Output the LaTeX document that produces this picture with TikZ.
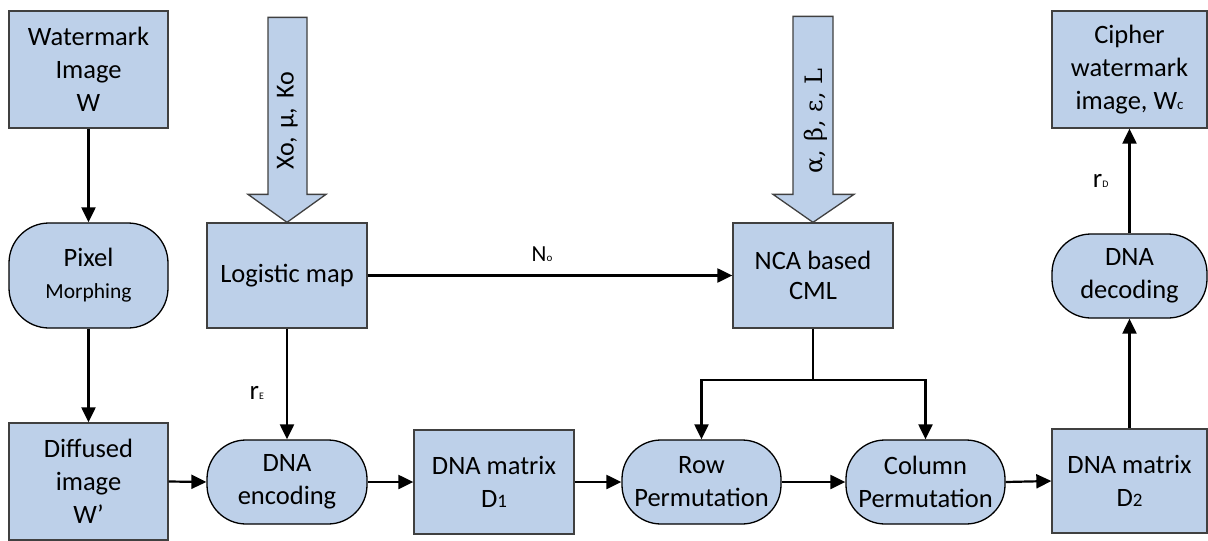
\documentclass[tikz,border=0pt]{standalone}
\usepackage{fontspec}
\setmainfont{Carlito}
\newfontfamily\grk{DejaVu Serif}
\usetikzlibrary{arrows.meta,calc}
\definecolor{boxfill}{RGB}{189,208,233}
\definecolor{boxline}{RGB}{64,64,64}
\newcommand{\smallsub}[2]{{\fontsize{#1}{#1}\selectfont #2}}
\begin{document}
\begin{tikzpicture}[x=1pt,y=-1pt,
 txt/.style={font=\fontsize{26.5}{33}\selectfont, align=center},
 sqbox/.style={txt, draw=boxline, line width=1.3pt, fill=boxfill, inner sep=0pt},
 rbox/.style={txt, draw=black, line width=1.3pt, fill=boxfill, rounded corners=39pt, inner sep=0pt},
 arr/.style={line width=2.2pt, -{Triangle[length=15pt,width=14pt]}},
 ln/.style={line width=2.2pt},
 barrow/.style={draw=boxline, line width=1.3pt, fill=boxfill, line join=miter},
 lab/.style={font=\fontsize{27}{30}\selectfont, inner sep=0pt}]
\useasboundingbox (0,0) rectangle (1208,541);

% boxes
\node[sqbox, minimum width=159pt, minimum height=117pt] (wm) at (88.5,69.5) {Watermark\\Image\\W};
\node[rbox, minimum width=159pt, minimum height=105pt, rounded corners=40pt] (pix) at (88.5,275.5) {Pixel\\[-1pt]\smallsub{21.5}{Morphing}};
\node[sqbox, minimum width=159pt, minimum height=117pt] (dif) at (88.5,481.5) {Diffused\\image\\W’};
\node[sqbox, minimum width=160pt, minimum height=105pt] (log) at (287,275.5) {Logistic map};
\node[rbox, minimum width=160pt, minimum height=84pt] (enc) at (287,482) {DNA\\encoding};
\node[sqbox, minimum width=160pt, minimum height=104pt] (d1) at (494,482) {DNA matrix\\D\smallsub{19}{1}};
\node[rbox, minimum width=159pt, minimum height=84pt] (row) at (701.5,482) {Row\\Permutation};
\node[rbox, minimum width=159pt, minimum height=84pt] (col) at (925.5,482) {Column\\Permutation};
\node[sqbox, minimum width=155pt, minimum height=104pt] (d2) at (1129.5,481) {DNA matrix\\D\smallsub{19}{2}};
\node[sqbox, minimum width=160pt, minimum height=105pt, font=\fontsize{26.5}{30}\selectfont] (nca) at (813,275.5) {NCA based\\CML};
\node[rbox, minimum width=155pt, minimum height=84pt] (dec) at (1129.5,276) {DNA\\decoding};
\node[sqbox, minimum width=155pt, minimum height=117pt] (ciph) at (1129.5,69.5) {Cipher\\watermark\\image, W\smallsub{15}{c}};

% block arrows
\draw[barrow] (log.north) -- ++(39,-28) -- ++(-19,0) -- ++(0,-177) -- ++(-39,0) -- ++(0,177) -- ++(-20,0) -- cycle;
\node[lab, rotate=90, font=\fontsize{26}{28}\selectfont] (lpar) at (287.5,121) {Xo,\,\,µ,\,\,Ko};
\draw[barrow] (nca.north) -- ++(41,-28) -- ++(-21,0) -- ++(0,-178) -- ++(-40,0) -- ++(0,178) -- ++(-20,0) -- cycle;
\node[lab, rotate=90, font=\grk\fontsize{24}{26}\selectfont] (npar) at (816,121) {α,\,\,β,\,\,ε,\,\,L};

% connectors
\draw[arr] (wm.south) -- (pix.north);
\draw[arr] (pix.south) -- (dif.north);
\draw[arr] (log.south) -- node[lab, pos=0.58, left=22pt] (re) {r\smallsub{10}{E}} (enc.north);
\draw[arr] (dif.east) -- (enc.west);
\draw[arr] (enc.east) -- (d1.west);
\draw[arr] (d1.east) -- (row.west);
\draw[arr] (row.east) -- (col.west);
\draw[arr] (col.east) -- (d2.west);
\draw[arr] (log.east) -- node[lab, midway, above=13pt, xshift=-8pt, font=\fontsize{23}{24}\selectfont] (no) {N\smallsub{11}{o}} (nca.west);
\coordinate (jn) at (813,380);
\draw[ln] (nca.south) -- (jn);
\draw[arr] (jn) -| (row.north);
\draw[arr] (jn) -| (col.north);
\draw[arr] (d2.north) -- (dec.south);
\draw[arr] (dec.north) -- node[lab, midway, left=20pt] (rd) {r\smallsub{10}{D}} (ciph.south);
\end{tikzpicture}
\end{document}
